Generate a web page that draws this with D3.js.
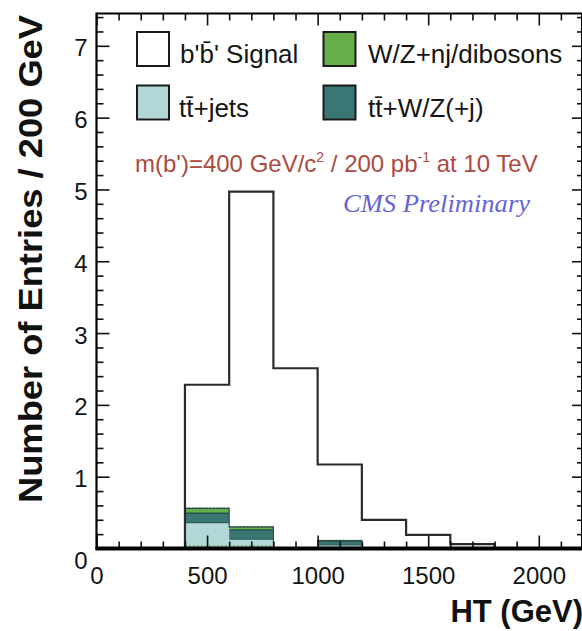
<!DOCTYPE html>
<html>
<head>
<meta charset="utf-8">
<script src="https://cdn.jsdelivr.net/npm/d3@7"></script>
<style>
  html, body { margin: 0; padding: 0; background: #fff; }
  svg { display: block; font-family: "Liberation Sans", Arial, Helvetica, sans-serif; }
</style>
</head>
<body>
<svg id="chart" width="582" height="631"></svg>
<script>
// ---------------- data ----------------
const binLow   = [400, 600, 800, 1000, 1200, 1400, 1600];   // lower bin edges (GeV), 200 GeV bins
const binWidth = 200;
const signal   = [2.28, 4.97, 2.51, 1.17, 0.40, 0.19, 0.06]; // b'b' signal
const ttJets   = [0.36, 0.13, 0.00, 0.05, 0.00, 0.00, 0.00]; // tt+jets
const ttWZ     = [0.13, 0.13, 0.01, 0.05, 0.00, 0.00, 0.00]; // tt+W/Z(+j)
const wzDib    = [0.07, 0.04, 0.00, 0.01, 0.00, 0.00, 0.00]; // W/Z+nj/dibosons
const xMajorTicks = [0, 500, 1000, 1500, 2000];
const yMajorTicks = [0, 1, 2, 3, 4, 5, 6, 7];
const xDomain = [0, 2200];
const yDomain = [0, 7.45];

// ---------------- layout ----------------
const L = 96.5, R = 583, T = 13.5, B = 548.5;
const svg = d3.select("#chart");

const x = d3.scaleLinear().domain(xDomain).range([L, R]);
const y = d3.scaleLinear().domain(yDomain).range([B, T]);

const colors = {
  ttJets: "#b3d8d8",
  ttWZ: "#3a7673",
  wzDib: "#66ae48",
  signal: "#2b2b2b"
};

// ---------------- stacked backgrounds ----------------
const rows = binLow.map((lo, i) => ({ lo, ttJets: ttJets[i], ttWZ: ttWZ[i], wzDib: wzDib[i] }));
const stack = d3.stack().keys(["ttJets", "ttWZ", "wzDib"]);
const layers = stack(rows);

const gBg = svg.append("g");
layers.forEach(layer => {
  const key = layer.key;
  gBg.selectAll(null)
    .data(layer.filter(d => d[1] - d[0] > 0))
    .enter().append("rect")
    .attr("x", d => x(d.data.lo))
    .attr("width", d => x(d.data.lo + binWidth) - x(d.data.lo))
    .attr("y", d => y(d[1]))
    .attr("height", d => y(d[0]) - y(d[1]))
    .attr("fill", colors[key]);
});
const lineColors = { ttJets: "#2f5e5e", ttWZ: "#24504d", wzDib: "#3f7f2c" };
layers.forEach(layer => {
  const key = layer.key;
  gBg.selectAll(null)
    .data(layer.filter(d => d[1] - d[0] > 0))
    .enter().append("line")
    .attr("x1", d => x(d.data.lo))
    .attr("x2", d => x(d.data.lo + binWidth))
    .attr("y1", d => y(d[1]))
    .attr("y2", d => y(d[1]))
    .attr("stroke", lineColors[key])
    .attr("stroke-width", key === "wzDib" ? 1.6 : 1.4)
    .attr("stroke-dasharray", key === "wzDib" ? "2,1.5" : null);
});
// dotted green baseline of the W/Z histogram
svg.append("line")
  .attr("x1", x(binLow[0])).attr("x2", x(binLow[1] + binWidth))
  .attr("y1", y(0) - 2.5).attr("y2", y(0) - 2.5)
  .attr("stroke", "#5a9a3a").attr("stroke-width", 1).attr("stroke-dasharray", "2,2");

const stackTop = rows.map((r, i) => [r.lo, ttJets[i] + ttWZ[i] + wzDib[i]]);
const bgPts = [[binLow[0], 0]].concat(stackTop).concat([[binLow[binLow.length - 1] + binWidth, 0]]);
svg.append("path")
  .attr("d", d3.line().x(d => x(d[0])).y(d => y(d[1])).curve(d3.curveStepAfter)(bgPts))
  .attr("fill", "none").attr("stroke", "#2c4f4c").attr("stroke-width", 1.2);

// ---------------- signal outline ----------------
const sigPts = [[binLow[0], 0]]
  .concat(binLow.map((lo, i) => [lo, signal[i]]))
  .concat([[binLow[binLow.length - 1] + binWidth, 0]]);
svg.append("path")
  .attr("d", d3.line().x(d => x(d[0])).y(d => y(d[1])).curve(d3.curveStepAfter)(sigPts))
  .attr("fill", "none")
  .attr("stroke", colors.signal)
  .attr("stroke-width", 2.2);

// ---------------- axes ----------------
const xMinor = d3.range(0, 2201, 100).filter(v => v % 500 !== 0);
const yMinor = d3.range(0, 7.45, 0.2).map(v => +v.toFixed(1)).filter(v => Math.abs(v - Math.round(v)) > 1e-6);

function styleAxis(g) {
  g.selectAll(".tick line").attr("stroke", "#111").attr("stroke-width", 1.6);
  g.select(".domain").remove();
}

// bottom
const gxMin = svg.append("g").attr("transform", `translate(0,${B})`)
  .call(d3.axisBottom(x).tickValues(xMinor).tickSize(-7).tickFormat(""));
styleAxis(gxMin);
const gx = svg.append("g").attr("transform", `translate(0,${B})`)
  .call(d3.axisBottom(x).tickValues(xMajorTicks).tickSize(-13).tickPadding(18).tickFormat(d3.format("d")));
styleAxis(gx);
gx.selectAll("text").attr("font-size", 24).attr("fill", "#141414")
  .style("font-family", "'Liberation Sans', Arial, sans-serif");

// top
const gtMin = svg.append("g").attr("transform", `translate(0,${T})`)
  .call(d3.axisTop(x).tickValues(xMinor).tickSize(-7).tickFormat(""));
styleAxis(gtMin);
const gt = svg.append("g").attr("transform", `translate(0,${T})`)
  .call(d3.axisTop(x).tickValues(xMajorTicks).tickSize(-12).tickFormat(""));
styleAxis(gt);

// left
const gyMin = svg.append("g").attr("transform", `translate(${L},0)`)
  .call(d3.axisLeft(y).tickValues(yMinor).tickSize(-7).tickFormat(""));
styleAxis(gyMin);
const gy = svg.append("g").attr("transform", `translate(${L},0)`)
  .call(d3.axisLeft(y).tickValues(yMajorTicks).tickSize(-13).tickPadding(9).tickFormat(d3.format("d")));
styleAxis(gy);
gy.selectAll("text").attr("font-size", 24).attr("fill", "#141414").attr("dy", "0.42em")
  .style("font-family", "'Liberation Sans', Arial, sans-serif");
gy.selectAll(".tick").filter(d => d === 0).select("text").attr("dy", "0.85em");

// right
const grMin = svg.append("g").attr("transform", `translate(${R},0)`)
  .call(d3.axisRight(y).tickValues(yMinor).tickSize(-6).tickFormat(""));
styleAxis(grMin);
const gr = svg.append("g").attr("transform", `translate(${R},0)`)
  .call(d3.axisRight(y).tickValues(yMajorTicks).tickSize(-11).tickFormat(""));
styleAxis(gr);

// frame lines
svg.append("line").attr("x1", L).attr("x2", R).attr("y1", T).attr("y2", T)
  .attr("stroke", "#000").attr("stroke-width", 2.2);
svg.append("line").attr("x1", R - 1).attr("x2", R - 1).attr("y1", T).attr("y2", B)
  .attr("stroke", "#000").attr("stroke-width", 2);
svg.append("line").attr("x1", L).attr("x2", L).attr("y1", T - 1).attr("y2", B + 1)
  .attr("stroke", "#000").attr("stroke-width", 2.2);
svg.append("line").attr("x1", L - 1).attr("x2", R).attr("y1", B).attr("y2", B)
  .attr("stroke", "#000").attr("stroke-width", 4);

// ---------------- axis titles ----------------
svg.append("text")
  .attr("x", 583).attr("y", 622)
  .attr("text-anchor", "end")
  .attr("font-size", 31).attr("font-weight", "bold").attr("fill", "#111")
  .text("HT (GeV)");

svg.append("text")
  .attr("transform", "translate(42,503) rotate(-90)")
  .attr("font-size", 34).attr("font-weight", "bold").attr("fill", "#111")
  .attr("textLength", 488).attr("lengthAdjust", "spacingAndGlyphs")
  .text("Number of Entries / 200 GeV");

// ---------------- legend ----------------
const legendItems = [
  { label: "b'b\u0304' Signal", fill: "#ffffff", bx: 137, by: 32, tx: 180, ty: 63 },
  { label: "W/Z+nj/dibosons", fill: colors.wzDib, bx: 323.5, by: 32, tx: 368, ty: 63 },
  { label: "tt\u0304+jets", fill: colors.ttJets, bx: 137, by: 85.5, tx: 179, ty: 117 },
  { label: "tt\u0304+W/Z(+j)", fill: colors.ttWZ, bx: 323.5, by: 85.5, tx: 368, ty: 117 }
];
const gLeg = svg.append("g");
gLeg.selectAll("rect").data(legendItems).enter().append("rect")
  .attr("x", d => d.bx).attr("y", d => d.by)
  .attr("width", 32).attr("height", 34)
  .attr("fill", d => d.fill)
  .attr("stroke", "#1a1a1a").attr("stroke-width", 2);
gLeg.selectAll("text").data(legendItems).enter().append("text")
  .attr("x", d => d.tx).attr("y", d => d.ty)
  .attr("font-size", 26).attr("fill", "#151515")
  .text(d => d.label);

// ---------------- annotations ----------------
const note = svg.append("text")
  .attr("x", 135).attr("y", 171.5)
  .attr("font-size", 24).attr("fill", "#ad4a3e");
note.append("tspan").text("m(b')=400 GeV/c");
note.append("tspan").attr("font-size", 14).attr("dy", -10).text("2");
note.append("tspan").attr("dy", 10).text(" / 200 pb");
note.append("tspan").attr("font-size", 14).attr("dy", -10).text("-1");
note.append("tspan").attr("dy", 10).text(" at 10 TeV");

svg.append("text")
  .attr("x", 343).attr("y", 212)
  .style("font-family", "'Liberation Serif', 'Times New Roman', serif")
  .style("font-style", "italic")
  .attr("font-size", 26).attr("fill", "#6464d8")
  .attr("textLength", 187).attr("lengthAdjust", "spacingAndGlyphs")
  .text("CMS Preliminary");
</script>
</body>
</html>
